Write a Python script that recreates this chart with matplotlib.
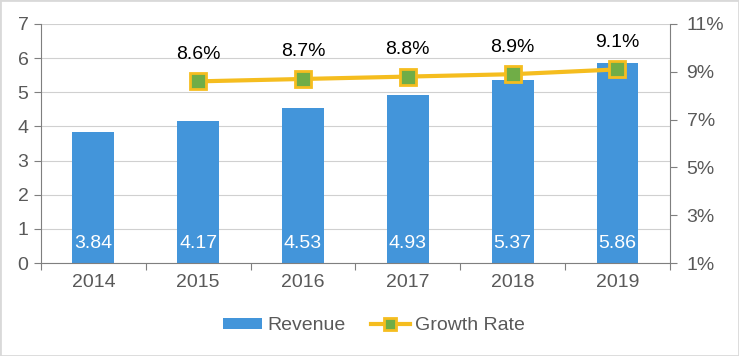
import numpy as np
import matplotlib.pyplot as plt
from matplotlib.lines import Line2D
from matplotlib.patches import Patch, Rectangle

years = ['2014', '2015', '2016', '2017', '2018', '2019']
revenue = [3.84, 4.17, 4.53, 4.93, 5.37, 5.86]
growth_years = ['2015', '2016', '2017', '2018', '2019']
growth = [8.6, 8.7, 8.8, 8.9, 9.1]

bar_color = '#4395DA'
line_color = '#F5BD1F'
marker_color = '#70AD47'
text_gray = '#595959'

plt.rcParams['font.family'] = ['Liberation Sans', 'DejaVu Sans']

fig = plt.figure(figsize=(7.39, 3.56), dpi=100)
ax = fig.add_axes([0.0555, 0.2612, 0.851, 0.6714])

x = np.arange(len(years))
ax.bar(x, revenue, width=0.4, color=bar_color, zorder=2)
for xi, v in zip(x, revenue):
    ax.text(xi, 0.58, '%.2f' % v, color='white', ha='center', va='center', fontsize=14, zorder=3)

ax.set_xlim(-0.5, len(years) - 0.5)
ax.set_ylim(0, 7)
ax.set_yticks(range(0, 8))
ax.yaxis.grid(True, color='#D0D0D0', linewidth=0.8, zorder=0)
ax.set_axisbelow(True)

# tick marks between categories, labels at centres
ax.set_xticks(np.arange(-0.5, len(years), 1.0))
ax.set_xticklabels([])
ax.set_xticks(x, minor=True)
ax.set_xticklabels(years, minor=True)
ax.tick_params(axis='x', which='major', length=5, color='#7F7F7F')
ax.tick_params(axis='x', which='minor', length=0, pad=8, labelsize=14, labelcolor=text_gray)
ax.tick_params(axis='y', length=5, color='#7F7F7F', labelsize=14, labelcolor=text_gray, pad=4)

for s in ['top', 'right']:
    ax.spines[s].set_visible(False)
for s in ['left', 'bottom']:
    ax.spines[s].set_color('#7F7F7F')

ax2 = ax.twinx()
ax2.set_ylim(1, 11)
ax2.set_yticks([1, 3, 5, 7, 9, 11])
ax2.set_yticklabels(['%d%%' % t for t in [1, 3, 5, 7, 9, 11]])
ax2.tick_params(axis='y', length=5, color='#7F7F7F', labelsize=14, labelcolor=text_gray, pad=7)
for s in ['top', 'left', 'bottom']:
    ax2.spines[s].set_visible(False)
ax2.spines['right'].set_color('#7F7F7F')

gx = [years.index(y) for y in growth_years]
ax2.plot(gx, growth, color=line_color, linewidth=3, marker='s', markersize=11,
         markerfacecolor=marker_color, markeredgecolor=line_color, markeredgewidth=2, zorder=4)
for xi, g in zip(gx, growth):
    ax2.annotate('%.1f%%' % g, (xi, g), xytext=(0, 27), textcoords='offset pixels',
                 ha='center', va='center', fontsize=14, color='black')

handles = [Patch(facecolor=bar_color, label='Revenue'),
           Line2D([], [], color=line_color, linewidth=3, marker='s', markersize=8,
                  markerfacecolor=marker_color, markeredgecolor=line_color, markeredgewidth=2,
                  label='Growth Rate')]
fig.legend(handles=handles, loc='center', bbox_to_anchor=(0.506, 0.085), ncol=2, frameon=False,
           fontsize=14, labelcolor=text_gray, handlelength=2.0, handleheight=0.55,
           columnspacing=1.3, handletextpad=0.25)

fig.patches.append(Rectangle((0, 0), 1, 1, transform=fig.transFigure, fill=False,
                             edgecolor='#D9D9D9', linewidth=2))

fig.savefig('out.png', dpi=100)
